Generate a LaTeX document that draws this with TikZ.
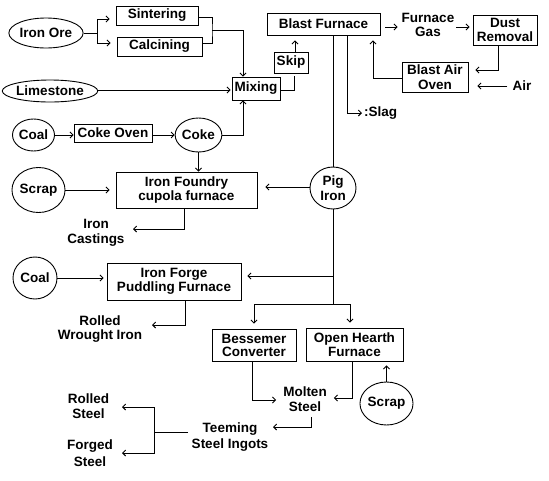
\documentclass[tikz,border=0pt]{standalone}
\usepackage{fontspec}
\setmainfont{Liberation Sans}
\usetikzlibrary{shapes.geometric,arrows.meta}
\begin{document}
\begin{tikzpicture}[x=1pt,y=-1pt,
  every node/.style={font=\bfseries\fontsize{13.5}{14.5}\selectfont, inner sep=0pt},
  bx/.style={draw, rectangle, line width=0.9pt, align=center},
  ov/.style={draw, ellipse, line width=0.9pt},
  tx/.style={align=center},
  ln/.style={line width=0.9pt},
  arr/.style={ln, -{Straight Barb[length=3pt,width=6pt]}},
]
\useasboundingbox[fill=white] (0,0) rectangle (549,480);

% boxes
\node[bx, minimum width=82, minimum height=19] (sint) at (157,15.5) {Sintering};
\node[bx, minimum width=85, minimum height=19] (calc) at (159.5,46.5) {Calcining};
\node[bx, minimum width=48, minimum height=23] (mix) at (256,88.5) {Mixing};
\node[bx, minimum width=78, minimum height=18] (cokeoven) at (113,133) {Coke Oven};
\node[bx, minimum width=113, minimum height=22] (bf) at (323.5,24) {Blast Furnace};
\node[bx, minimum width=34, minimum height=21] (skip) at (291,62.5) {Skip};
\node[bx, minimum width=64, minimum height=30] (dust) at (505,30) {Dust\\Removal};
\node[bx, minimum width=66, minimum height=30] (bao) at (435,77) {Blast Air\\Oven};
\node[bx, minimum width=141, minimum height=36] (foundry) at (186.5,190) {Iron Foundry\\cupola furnace};
\node[bx, minimum width=134, minimum height=37] (forge) at (174,281.5) {Iron Forge\\Puddling Furnace};
\node[bx, minimum width=84, minimum height=32, font=\bfseries\fontsize{13.5}{13}\selectfont] (bess) at (254,345) {Bessemer\\Converter};
\node[bx, minimum width=97, minimum height=33] (ohf) at (354.5,344.5) {Open Hearth\\Furnace};

% ovals
\node[ov, minimum width=72, minimum height=30] (ore) at (46,33) {Iron Ore};
\node[ov, minimum width=86, minimum height=22] (lime) at (50,91) {Limestone};
\node[ov, minimum width=42, minimum height=32] (coal1) at (33.5,135) {Coal};
\node[ov, minimum width=43, minimum height=34] (coke) at (198.5,135) {Coke};
\node[ov, minimum width=49, minimum height=45] (scrap1) at (38.5,190) {Scrap};
\node[ov, minimum width=46, minimum height=42, align=center] (pig) at (333,188) {Pig\\Iron};
\node[ov, minimum width=44, minimum height=42] (coal2) at (35,278) {Coal};
\node[ov, minimum width=49, minimum height=43] (scrap2) at (386.5,403.5) {Scrap};

% plain texts
\node[tx] (gas) at (428,25) {Furnace\\Gas};
\node[tx] (air) at (522,86) {Air};
\node[tx, anchor=west] (slag) at (364,113) {:Slag};
\node[tx] (cast) at (96,233) {Iron\\Castings};
\node[tx] (wrought) at (100,329) {Rolled\\Wrought Iron};
\node[tx] (molten) at (305,399) {Molten\\Steel};
\node[tx, font=\bfseries\fontsize{13.5}{16}\selectfont] (teem) at (230,437) {Teeming\\Steel Ingots};
\node[tx] (rsteel) at (88.5,406) {Rolled\\Steel};
\node[tx, font=\bfseries\fontsize{13.5}{17}\selectfont] (fsteel) at (90,453) {Forged\\Steel};

% junctions and free ends
\coordinate (oj) at (97,33);
\coordinate (sj) at (212,30);
\coordinate (castin) at (133,229);
\coordinate (pj) at (333,304);
\coordinate (wrin) at (152,325);
\coordinate (teemin) at (273,427);
\coordinate (teemout) at (188,432);
\coordinate (tj) at (154,432);
\coordinate (rsin) at (122,407);
\coordinate (fsin) at (122,453);

% connectors
\draw[arr, shorten >=6] (ore.east) -- (oj) |- (sint.west |- 0,19);
\draw[arr, shorten >=6] (oj) |- (calc.west |- 0,43);
\draw[ln] (sint.east |- 0,17) -| (sj) |- (calc.east |- 0,43);
\draw[arr] (sj) -| ([xshift=-13]mix.north);
\draw[arr, shorten >=1] (lime.east |- 0,90) -- (mix.west |- 0,90);
\draw[arr] (coal1.east) -- (cokeoven.west |- coal1.east);
\draw[arr] (cokeoven.east |- coke.west) -- (coke.west);
\draw[arr] (coke.east) -| ([xshift=-13]mix.south);
\draw[arr] (coke.south) -- (foundry.north -| coke.south);
\draw[ln, shorten >=3] (mix.east |- 0,90) -| ([xshift=3]skip.south);
\draw[arr, shorten >=5] ([xshift=4]skip.north) -- ([xshift=4]skip.north |- bf.south);
\draw[ln] (bf.south -| pig.north) -- (pig.north);
\draw[arr, shorten >=2] (bf.south -| 347,0) |- (slag.west);
\draw[arr, shorten <=5, shorten >=4] (bf.east |- 0,27) -- (gas.west |- 0,27);
\draw[arr, shorten <=2, shorten >=3] (gas.east |- 0,27) -- (dust.west |- 0,27);
\draw[arr, shorten >=7] (dust.south -| 498,0) |- (bao.east |- 0,70);
\draw[arr, shorten <=5, shorten >=9] (air.west) -- (bao.east |- air.west);
\draw[arr, shorten >=5] (bao.west |- 0,78) -| (bf.south -| 373,0);
\draw[arr, shorten >=6] (scrap1.east) -- (foundry.west |- scrap1.east);
\draw[arr, shorten >=8] (pig.west |- 0,187) -- (foundry.east |- 0,187);
\draw[arr] (foundry.south -| 184,0) |- (castin);
\draw[ln] (pig.south) -- (pj);
\draw[arr, shorten >=6] (pig.south |- 0,276) -- (forge.east |- 0,276);
\draw[arr, shorten >=3] (coal2.east) -- (forge.west |- coal2.east);
\draw[arr] (forge.south -| 185,0) |- (wrin);
\draw[arr, shorten >=5] (pj) -| (ohf.north -| 350,0);
\draw[arr, shorten >=5] (pj) -| (bess.north);
\draw[arr, shorten >=7] (bess.south -| 252,0) |- (molten.west |- 0,400);
\draw[arr, shorten >=7] (ohf.south -| 352,0) |- (molten.east |- 0,398);
\draw[arr, shorten >=4] (scrap2.north) -- (ohf.south -| scrap2.north);
\draw[arr] (311,417) |- (teemin);
\draw[ln] (teemout) -- (tj);
\draw[arr] (tj) |- (rsin);
\draw[arr] (tj) |- (fsin);
\end{tikzpicture}
\end{document}
